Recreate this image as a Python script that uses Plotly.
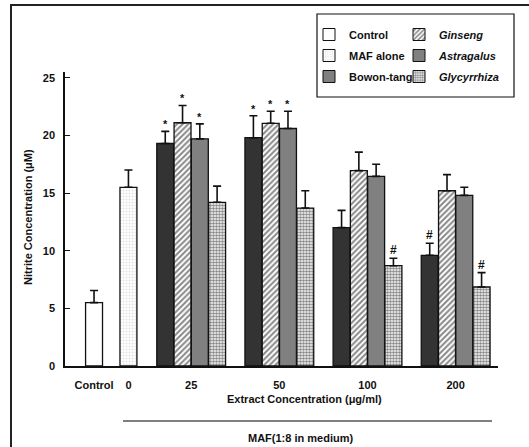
import plotly.graph_objects as go

# ---- data ----
concentrations = ["25", "50", "100", "200"]
control_value = [5.5]
control_err = [1.05]
maf_alone_value = [15.5]
maf_alone_err = [1.5]
bowon = [19.3, 19.8, 12.0, 9.6]
bowon_err = [1.05, 1.9, 1.5, 1.05]
ginseng = [21.1, 21.05, 16.95, 15.2]
ginseng_err = [1.5, 1.05, 1.6, 1.4]
astragalus = [19.7, 20.6, 16.45, 14.8]
astragalus_err = [1.3, 1.5, 1.05, 0.7]
glycyrrhiza = [14.2, 13.7, 8.7, 6.85]
glycyrrhiza_err = [1.4, 1.5, 0.65, 1.25]
bowon_sig = ["*", "*", "", "#"]
ginseng_sig = ["*", "*", "", ""]
astragalus_sig = ["*", "*", "", ""]
glycyrrhiza_sig = ["", "", "#", "#"]

# ---- layout config (category positions in bar-width units) ----
ctrl_pos = 1.68
maf_pos = 3.67
group_pos = [7.3, 12.4, 17.5, 22.6]
offsets = [-1.5, -0.5, 0.5, 1.5]

FONT = "Liberation Sans"
BLACK = "#111"

fig = go.Figure()

def add_bar(name, xs, ys, errs, color, pattern=None, sig=None):
    marker = dict(color=color, line=dict(color=BLACK, width=1.3))
    if pattern:
        marker["pattern"] = pattern
    fig.add_trace(go.Bar(
        x=xs, y=ys, width=0.98, name=name, showlegend=False,
        marker=marker,
        error_y=dict(type="data", symmetric=False, array=errs,
                     arrayminus=[0] * len(errs), color=BLACK,
                     thickness=1.6, width=4),
    ))
    if sig:
        for x, y, e, s in zip(xs, ys, errs, sig):
            if s:
                fig.add_annotation(x=x, y=y + e, text="<b>%s</b>" % s,
                                   showarrow=False, yanchor="bottom",
                                   yshift=-1, font=dict(size=11 if s == "*" else 12,
                                                        color=BLACK, family=FONT))

maf_pat = dict(shape=".", fgcolor="#c8c8c8", bgcolor="white", size=3, solidity=0.35)
gin_pat = dict(shape="/", fgcolor="#111", bgcolor="white", size=4, solidity=0.5)
gly_pat = dict(shape=".", fgcolor="#111", bgcolor="white", size=3, solidity=0.6)

add_bar("Control", [ctrl_pos], control_value, control_err, "white")
add_bar("MAF alone", [maf_pos], maf_alone_value, maf_alone_err, "white", maf_pat)
add_bar("Bowon-tang", [g + offsets[0] for g in group_pos], bowon, bowon_err, "#333333", sig=bowon_sig)
add_bar("Ginseng", [g + offsets[1] for g in group_pos], ginseng, ginseng_err, "white", gin_pat, ginseng_sig)
add_bar("Astragalus", [g + offsets[2] for g in group_pos], astragalus, astragalus_err, "#808080", sig=astragalus_sig)
add_bar("Glycyrrhiza", [g + offsets[3] for g in group_pos], glycyrrhiza, glycyrrhiza_err, "white", gly_pat, glycyrrhiza_sig)

# legend-only entries: two columns as two legends
legend_items = [
    ("Control", "white", None, "legend"),
    ("MAF alone", "white", maf_pat, "legend"),
    ("Bowon-tang", "#808080", None, "legend"),
    ("<i>Ginseng</i>", "white", gin_pat, "legend2"),
    ("<i>Astragalus</i>", "#808080", None, "legend2"),
    ("<i>Glycyrrhiza</i>", "white", gly_pat, "legend2"),
]
for i, (nm, col, pat, lg) in enumerate(legend_items):
    mk = dict(color=col, line=dict(color=BLACK, width=1))
    if pat:
        mk["pattern"] = pat
    fig.add_trace(go.Bar(x=[None], y=[None], name=nm, marker=mk, legend=lg,
                         legendgroup="g%d" % i, legendrank=i + 1))

tickvals = [ctrl_pos, maf_pos] + group_pos
ticktext = ["Control", "0"] + concentrations

leg_common = dict(orientation="v", yanchor="top", xanchor="left",
                  borderwidth=0, bgcolor="rgba(0,0,0,0)",
                  tracegroupgap=2, traceorder="grouped",
                  font=dict(size=11, family=FONT, weight="bold", color=BLACK))
fig.update_layout(
    width=529, height=447,
    margin=dict(l=65, r=31, t=72, b=81),
    paper_bgcolor="white", plot_bgcolor="white",
    font=dict(family=FONT, size=11, color=BLACK),
    barmode="overlay",
    showlegend=True,
    legend=dict(x=(309 - 65) / 433, y=(366 - 20) / 294, **leg_common),
    legend2=dict(x=(399 - 65) / 433, y=(366 - 20) / 294, **leg_common),
    xaxis=dict(range=[0, 25.05], showline=True, linecolor=BLACK, linewidth=1.5,
               showgrid=False, zeroline=False, ticks="",
               tickvals=tickvals, ticktext=ticktext, ticklabelstandoff=8,
               tickfont=dict(size=11, weight="bold")),
    yaxis=dict(range=[0, 25.5], showline=True, linecolor=BLACK, linewidth=1.5,
               showgrid=False, zeroline=False, ticks="inside", ticklen=5,
               tickwidth=1.3, tickcolor=BLACK, dtick=5, tick0=0,
               ticklabelstandoff=6, tickfont=dict(size=11, weight="bold")),
)

# legend border
fig.add_shape(type="rect", xref="paper", yref="paper",
              x0=(317 - 65) / 433, x1=(514 - 65) / 433,
              y0=(366 - 97) / 294, y1=(366 - 14) / 294,
              line=dict(color=BLACK, width=1.2))

# axis titles and MAF label
fig.add_annotation(xref="paper", yref="paper", x=(28 - 65) / 433, y=(366 - 217) / 294,
                   text="Nitrite Concentration (μM)", textangle=-90, showarrow=False,
                   xanchor="center", yanchor="middle", font=dict(size=11, weight="bold"))
fig.add_annotation(xref="paper", yref="paper", x=(304 - 65) / 433, y=(366 - 399) / 294,
                   text="Extract Concentration (μg/ml)", showarrow=False,
                   xanchor="center", yanchor="middle", font=dict(size=11, weight="bold"))
fig.add_annotation(xref="paper", yref="paper", x=(300 - 65) / 433, y=(366 - 438) / 294,
                   text="MAF(1:8 in medium)", showarrow=False,
                   xanchor="center", yanchor="middle", font=dict(size=11, weight="bold"))
fig.add_shape(type="line", xref="paper", yref="paper",
              x0=(123 - 65) / 433, x1=(492 - 65) / 433,
              y0=(366 - 421) / 294, y1=(366 - 421) / 294,
              line=dict(color="#555", width=1.3))
# outer frame
fig.add_shape(type="rect", xref="paper", yref="paper",
              x0=(11 - 65) / 433, x1=(560 - 65) / 433,
              y0=(366 - 480) / 294, y1=(366 - 5) / 294,
              line=dict(color="#222", width=2), layer="below")

fig.write_html("out.html")
